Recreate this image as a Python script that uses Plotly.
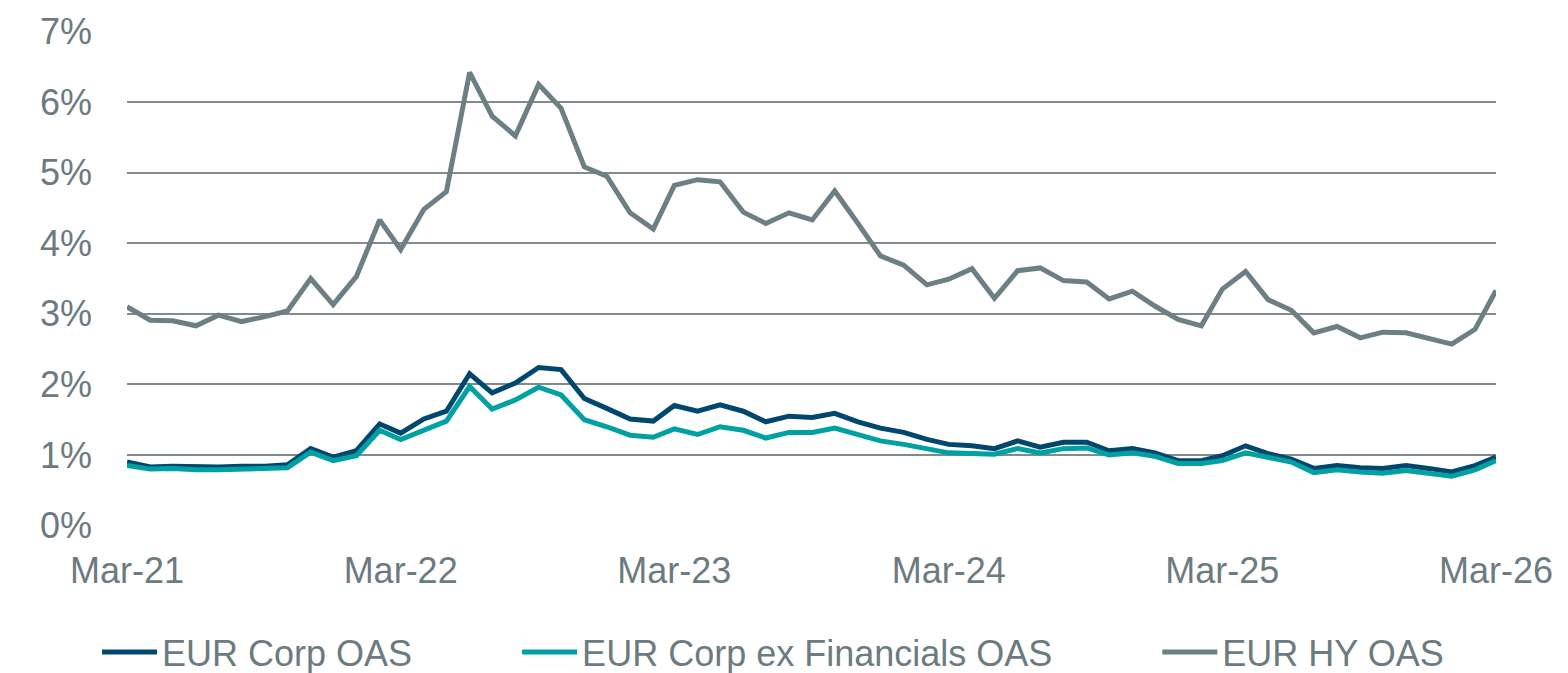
import pandas as pd
import plotly.graph_objects as go

dates = pd.date_range("2021-03-01", "2026-03-01", freq="MS")

eur_corp_oas = [
    0.90, 0.83, 0.84, 0.83, 0.83, 0.84, 0.84, 0.86, 1.09, 0.97,
    1.06, 1.44, 1.31, 1.51, 1.62, 2.15, 1.88, 2.02, 2.24, 2.21,
    1.80, 1.66, 1.51, 1.48, 1.70, 1.62, 1.71, 1.62, 1.47, 1.55,
    1.53, 1.59, 1.47, 1.38, 1.32, 1.22, 1.15, 1.13, 1.09, 1.20,
    1.11, 1.18, 1.18, 1.06, 1.09, 1.03, 0.92, 0.92, 0.99, 1.13,
    1.02, 0.94, 0.81, 0.85, 0.82, 0.81, 0.85, 0.81, 0.76, 0.85,
    0.97,
]
eur_corp_ex_fin_oas = [
    0.85, 0.80, 0.81, 0.79, 0.79, 0.80, 0.80, 0.82, 1.04, 0.92,
    0.99, 1.35, 1.22, 1.36, 1.48, 1.97, 1.65, 1.78, 1.96, 1.85,
    1.50, 1.40, 1.28, 1.25, 1.37, 1.29, 1.40, 1.35, 1.24, 1.32,
    1.32, 1.38, 1.28, 1.20, 1.15, 1.09, 1.03, 1.02, 1.01, 1.09,
    1.03, 1.09, 1.10, 1.00, 1.03, 0.98, 0.88, 0.88, 0.92, 1.03,
    0.96, 0.90, 0.75, 0.79, 0.76, 0.74, 0.78, 0.74, 0.70, 0.79,
    0.92,
]
eur_hy_oas = [
    3.10, 2.91, 2.90, 2.83, 2.98, 2.89, 2.96, 3.04, 3.50, 3.13,
    3.53, 4.33, 3.91, 4.48, 4.73, 6.42, 5.80, 5.52, 6.25, 5.91,
    5.08, 4.95, 4.43, 4.20, 4.82, 4.90, 4.87, 4.44, 4.28, 4.43,
    4.33, 4.74, 4.28, 3.82, 3.69, 3.41, 3.49, 3.64, 3.22, 3.61,
    3.65, 3.47, 3.45, 3.21, 3.32, 3.11, 2.92, 2.83, 3.35, 3.60,
    3.20, 3.05, 2.73, 2.82, 2.66, 2.74, 2.73, 2.66, 2.57, 2.78,
    3.33,
]

series_names = ["EUR Corp OAS", "EUR Corp ex Financials OAS", "EUR HY OAS"]
series_colors = ["#00476e", "#00a0a3", "#6b7f84"]
# invisible trailing spacing so legend entries sit where the reference has them
legend_pad = [10, 10, 0]

x_tick_vals = pd.to_datetime(["2021-03-01", "2022-03-01", "2023-03-01",
                              "2024-03-01", "2025-03-01", "2026-03-01"])
x_tick_text = ["Mar-21", "Mar-22", "Mar-23", "Mar-24", "Mar-25", "Mar-26"]
y_tick_vals = [0, 1, 2, 3, 4, 5, 6, 7]
y_tick_text = ["0%", "1%", "2%", "3%", "4%", "5%", "6%", "7%"]

text_color = "#6b7b7f"
font_family = "Liberation Sans, Arial, sans-serif"

fig = go.Figure()
for name, vals, col, pad in zip(series_names,
                                [eur_corp_oas, eur_corp_ex_fin_oas, eur_hy_oas],
                                series_colors, legend_pad):
    fig.add_trace(go.Scatter(
        x=dates, y=vals, mode="lines", name=name + "\u00a0" * pad,
        line=dict(color=col, width=5, shape="linear"),
        hovertemplate=name + ": %{y:.2f}%<extra></extra>",
    ))

fig.update_layout(
    width=1568, height=673,
    margin=dict(l=127, r=72, t=31, b=147, autoexpand=False),
    paper_bgcolor="white", plot_bgcolor="white",
    font=dict(family=font_family, size=36, color=text_color),
    showlegend=True,
    legend=dict(
        orientation="h", xref="container", yref="container",
        x=0.493, xanchor="center", y=0.031, yanchor="middle",
        font=dict(size=36, color=text_color),
        itemwidth=55, traceorder="normal",
        entrywidth=0, bgcolor="rgba(0,0,0,0)",
    ),
)
fig.update_xaxes(
    type="date",
    range=[dates[0], dates[-1]],
    tickvals=x_tick_vals, ticktext=x_tick_text,
    showgrid=False, zeroline=False, showline=False,
    ticks="", ticklabelstandoff=20, automargin=False,
    tickfont=dict(size=36, color=text_color),
)
fig.update_yaxes(
    range=[-0.006, 7.006],
    tickvals=y_tick_vals, ticktext=y_tick_text,
    showgrid=True, gridcolor="#808b8e", gridwidth=1.5,
    zeroline=False, showline=False,
    ticks="", ticklabelstandoff=34, automargin=False,
    tickfont=dict(size=36, color=text_color),
)

fig.write_html(
    "out.html",
    config={"displayModeBar": False},
    post_script="document.body.style.margin='0px';document.body.style.overflow='hidden';",
)
